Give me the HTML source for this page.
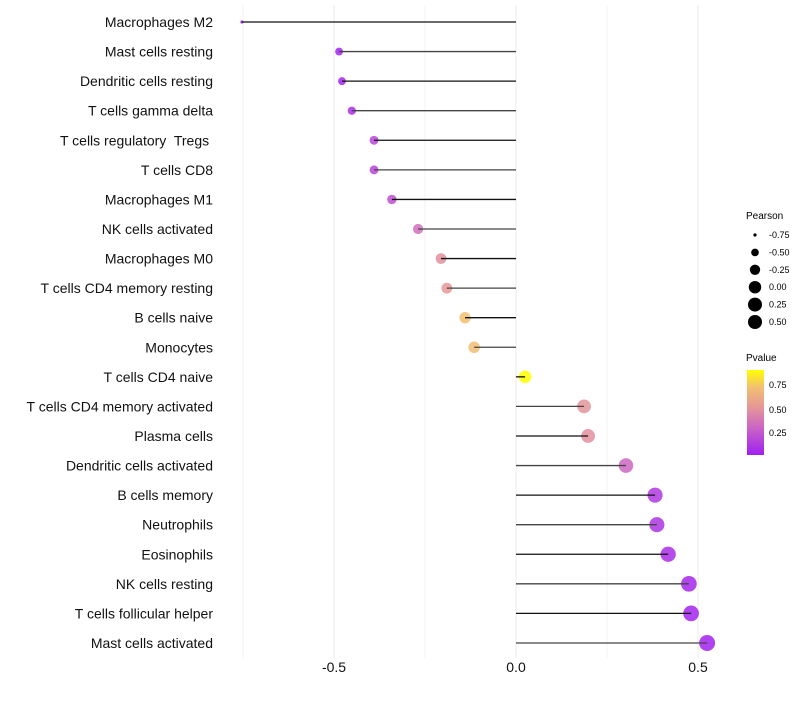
<!DOCTYPE html>
<html><head><meta charset="utf-8"><style>
body{margin:0;background:#fff;font-family:"Liberation Sans",sans-serif}
text{white-space:pre}
</style></head><body>
<svg id="chart" width="800" height="700" xmlns="http://www.w3.org/2000/svg">
<defs><linearGradient id="pg" x1="0" y1="1" x2="0" y2="0">
<stop offset="0" stop-color="#a020f0"/><stop offset="0.3" stop-color="#c860c8"/><stop offset="0.55" stop-color="#e4959a"/><stop offset="0.8" stop-color="#f2c070"/><stop offset="1" stop-color="#ffff00"/></linearGradient></defs>
<g id="grid"></g><g id="dots"></g><g id="stems"></g><g id="labels"></g>
<g font-size="9" fill="#000">
<text x="746" y="219" font-size="10">Pearson</text>
<g id="sizeleg"></g>
</g>
<g font-size="9">
<text x="746" y="361" font-size="10">Pvalue</text>
<rect x="747" y="370" width="17" height="85" fill="url(#pg)"/>
<text x="769" y="388">0.75</text><text x="769" y="413">0.50</text><text x="769" y="436">0.25</text>
</g>
</svg>
<script>
const cells=["Macrophages M2","Mast cells resting","Dendritic cells resting","T cells gamma delta","T cells regulatory  Tregs ","T cells CD8","Macrophages M1","NK cells activated","Macrophages M0","T cells CD4 memory resting","B cells naive","Monocytes","T cells CD4 naive","T cells CD4 memory activated","Plasma cells","Dendritic cells activated","B cells memory","Neutrophils","Eosinophils","NK cells resting","T cells follicular helper","Mast cells activated"];
const pearson=[-0.753,-0.486,-0.478,-0.451,-0.39,-0.39,-0.341,-0.269,-0.206,-0.19,-0.14,-0.115,0.025,0.187,0.198,0.302,0.382,0.387,0.418,0.475,0.481,0.525];
const pvals=[0.01,0.02,0.03,0.06,0.15,0.15,0.2,0.33,0.48,0.52,0.72,0.7,0.9,0.5,0.48,0.3,0.1,0.09,0.06,0.03,0.02,0.01];
const xTicks=[-0.5,0,0.5];
const xTickLabels=["-0.5","0.0","0.5"];
const sizeBreaks=[-0.75,-0.5,-0.25,0,0.25,0.5];
const sizeLabels=["-0.75","-0.50","-0.25","0.00","0.25","0.50"];
const NS="http://www.w3.org/2000/svg";
const xS=v=>516+v*364;
const yS=i=>22+i*29.57;
const rS=v=>Math.sqrt(Math.max(1.5,2.5+48*(v+0.753)));
function lerp(a,b,t){return a.map((c,i)=>Math.round(c+(b[i]-c)*t));}
const stops=[[0,[160,32,240]],[0.27,[200,96,200]],[0.5,[228,149,154]],[0.72,[242,192,112]],[0.9,[255,255,0]]];
function col(p){p=Math.max(0,Math.min(0.9,p));for(let i=0;i<stops.length-1;i++){if(p<=stops[i+1][0]){const t=(p-stops[i][0])/(stops[i+1][0]-stops[i][0]);return "rgb("+lerp(stops[i][1],stops[i+1][1],t).join(",")+")";}}return "rgb(255,255,0)";}
function mk(t,a,parent){const e=document.createElementNS(NS,t);for(const k in a)e.setAttribute(k,a[k]);parent.appendChild(e);return e;}
const g=document.getElementById("grid"),dg=document.getElementById("dots"),sg=document.getElementById("stems"),lb=document.getElementById("labels");
[-0.75,-0.5,-0.25,0,0.25,0.5].forEach(v=>{const l=mk("line",{x1:xS(v),x2:xS(v),y1:5,y2:658,stroke:"#ebebeb","stroke-width":v%0.5===0?1:0.6},g);

});
xTicks.forEach((v,i)=>{const t=mk("text",{x:xS(v),y:672,"text-anchor":"middle","font-size":14,fill:"#111"},lb);t.textContent=xTickLabels[i];

});
cells.forEach((c,i)=>{const y=yS(i);
const d=mk("circle",{cx:xS(pearson[i]),cy:y,r:rS(pearson[i]),fill:col(pvals[i]),"fill-opacity":0.85},dg);


const ln=mk("line",{x1:xS(0),x2:xS(pearson[i]),y1:y,y2:y,stroke:i%2?"#444":"#111","stroke-width":1.3},sg);


const t=mk("text",{x:213,y:y+5,"text-anchor":"end","font-size":14,fill:"#111"},lb);t.textContent=c;

});
const sl=document.getElementById("sizeleg");
sizeBreaks.forEach((v,i)=>{const y=235+i*17.4;
const c=mk("circle",{cx:755,cy:y,r:Math.min(7,rS(v)),fill:"#000"},sl);


const t=mk("text",{x:769,y:y+3},sl);t.textContent=sizeLabels[i];

});
</script>
</body></html>
